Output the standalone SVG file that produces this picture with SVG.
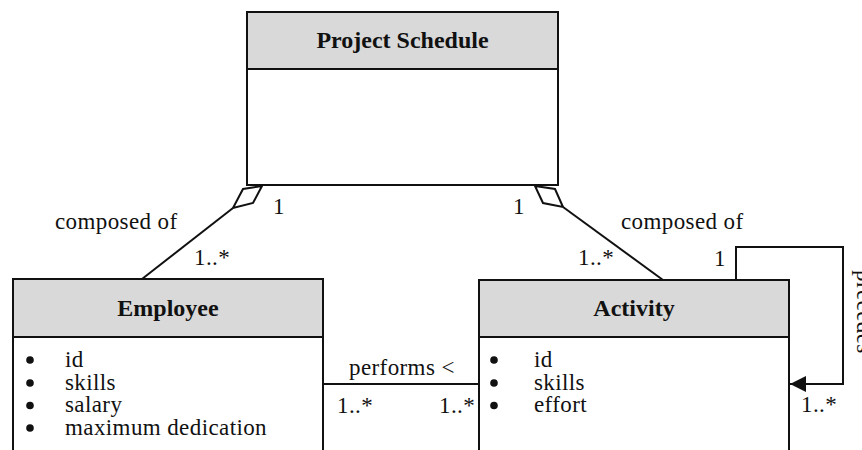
<svg xmlns="http://www.w3.org/2000/svg" width="862" height="450" viewBox="0 0 862 450">
  <style>
    .box { fill: #ffffff; stroke: #111111; stroke-width: 2; }
    .head { fill: #d9d9d9; stroke: #111111; stroke-width: 2; }
    .title { font-family: "Liberation Serif", "Times New Roman", serif; font-size: 24px; font-weight: bold; fill: #111111; text-anchor: middle; }
    .txt { font-family: "Liberation Serif", "Times New Roman", serif; font-size: 23px; letter-spacing: 0.4px; fill: #111111; }
    .conn { fill: none; stroke: #111111; stroke-width: 2; }
    .diamond { fill: #ffffff; stroke: #111111; stroke-width: 2; stroke-linejoin: miter; }
    .bullet { fill: #111111; }
  </style>
  <defs>
    <marker id="arrow" viewBox="0 0 16 16" refX="16" refY="8" markerWidth="16" markerHeight="16" markerUnits="userSpaceOnUse" orient="auto">
      <path d="M0,0 L16,8 L0,16 Z" fill="#111111"/>
    </marker>
  </defs>

  <!-- Connectors -->
  <g id="connectors">
    <!-- aggregation: Project Schedule to Employee -->
    <line class="conn" x1="233" y1="208" x2="142" y2="279"/>
    <path class="diamond" d="M262,186 L243,189 L233,208 L253,203 Z"/>
    <!-- aggregation: Project Schedule to Activity -->
    <line class="conn" x1="563" y1="207" x2="663" y2="280"/>
    <path class="diamond" d="M535,186 L555,189 L563,207 L543,203 Z"/>
    <!-- performs association -->
    <line class="conn" x1="323" y1="384" x2="479" y2="384"/>
    <!-- precedes self association -->
    <path class="conn" d="M736,280 L736,247 L843,247 L843,384 L790,384" marker-end="url(#arrow)"/>

    <text class="txt" x="55" y="229">composed of</text>
    <text class="txt" x="273" y="214">1</text>
    <text class="txt" x="194" y="265">1..*</text>
    <text class="txt" x="513" y="214">1</text>
    <text class="txt" x="578" y="265">1..*</text>
    <text class="txt" x="621" y="229">composed of</text>
    <text class="txt" x="349" y="375">performs &lt;</text>
    <text class="txt" x="337" y="413">1..*</text>
    <text class="txt" x="439" y="413">1..*</text>
    <text class="txt" x="714" y="266">1</text>
    <text class="txt" x="801" y="412">1..*</text>
    <text class="txt" transform="translate(857,270) rotate(90)">precedes</text>
  </g>

  <!-- Project Schedule -->
  <g id="project-schedule">
    <rect class="box" x="247" y="12" width="311" height="173"/>
    <rect class="head" x="247" y="12" width="311" height="57"/>
    <text class="title" x="402.5" y="48">Project Schedule</text>
  </g>

  <!-- Employee -->
  <g id="employee">
    <rect class="box" x="13" y="279" width="310" height="190"/>
    <rect class="head" x="13" y="279" width="310" height="58"/>
    <text class="title" x="168" y="316">Employee</text>
    <circle class="bullet" cx="30" cy="360" r="3.8"/>
    <circle class="bullet" cx="30" cy="383" r="3.8"/>
    <circle class="bullet" cx="30" cy="405.5" r="3.8"/>
    <circle class="bullet" cx="30" cy="428" r="3.8"/>
    <text class="txt"><tspan x="65" y="367">id</tspan><tspan x="65" y="389.5">skills</tspan><tspan x="65" y="412">salary</tspan><tspan x="65" y="434.5">maximum dedication</tspan></text>
  </g>

  <!-- Activity -->
  <g id="activity">
    <rect class="box" x="479" y="280" width="310" height="190"/>
    <rect class="head" x="479" y="280" width="310" height="57"/>
    <text class="title" x="634" y="316">Activity</text>
    <circle class="bullet" cx="494" cy="360" r="3.8"/>
    <circle class="bullet" cx="494" cy="383" r="3.8"/>
    <circle class="bullet" cx="494" cy="405.5" r="3.8"/>
    <text class="txt"><tspan x="534" y="367">id</tspan><tspan x="534" y="389.5">skills</tspan><tspan x="534" y="412">effort</tspan></text>
  </g>
</svg>
